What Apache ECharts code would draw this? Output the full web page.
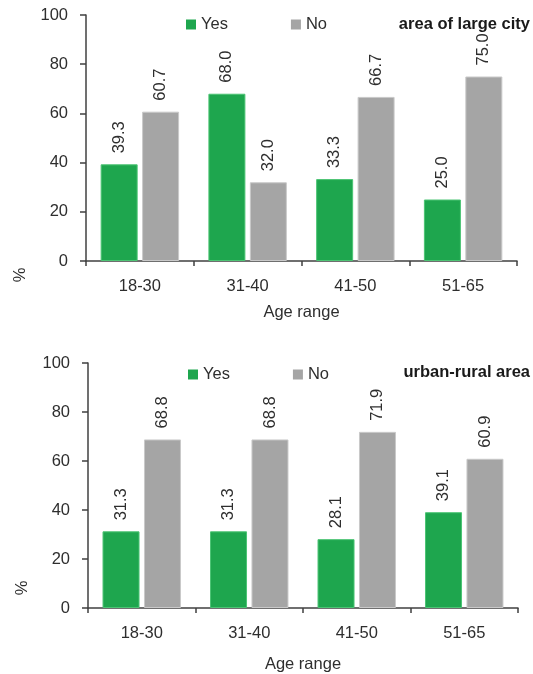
<!DOCTYPE html>
<html>
<head>
<meta charset="utf-8">
<script src="https://cdn.jsdelivr.net/npm/echarts@6/dist/echarts.min.js"></script>
<style>
  html, body { margin: 0; padding: 0; background: #fff; }
  #chart { width: 533px; height: 674px; }
</style>
</head>
<body>
<div id="chart"></div>
<script>
// Age groups on the x axis
const ageRanges = ['18-30', '31-40', '41-50', '51-65'];

// Share of respondents (%) — area of large city
const cityYes = [39.3, 68.0, 33.3, 25.0];
const cityNo = [60.7, 32.0, 66.7, 75.0];

// Share of respondents (%) — urban-rural area
const ruralYes = [31.3, 31.3, 28.1, 39.1];
const ruralNo = [68.8, 68.8, 71.9, 60.9];

const panelTitles = ['area of large city', 'urban-rural area'];
const xAxisTitle = 'Age range';
const yAxisTitle = '%';

const FONT = "'Liberation Sans', Arial, sans-serif";
const FS = 16.5;
const TEXT = '#2e2e2e';
const AXIS = '#404040';
const GREEN = '#1ea64e';
const GREEN_EDGE = '#4cc474';
const GREY = '#a5a5a5';
const GREY_EDGE = '#c9c9c9';

const grids = [
  { left: 86, right: 16, top: 15, height: 246 },
  { left: 88, right: 15, top: 363, height: 245 }
];

function xAxisFor(i) {
  return {
    type: 'category',
    gridIndex: i,
    data: ageRanges,
    name: xAxisTitle,
    nameLocation: 'middle',
    nameGap: i === 0 ? 43 : 48,
    nameTextStyle: { fontFamily: FONT, fontSize: FS, color: TEXT },
    axisLine: { lineStyle: { color: AXIS, width: 1.5 } },
    axisTick: { show: true, length: 5, lineStyle: { color: AXIS, width: 1.5 } },
    axisLabel: { margin: 17, fontFamily: FONT, fontSize: FS, color: TEXT }
  };
}

function yAxisFor(i) {
  return {
    type: 'value',
    gridIndex: i,
    min: 0,
    max: 100,
    interval: 20,
    splitLine: { show: false },
    axisLine: { show: true, lineStyle: { color: AXIS, width: 1.5 } },
    axisTick: { show: true, length: 6, lineStyle: { color: AXIS, width: 1.5 } },
    axisLabel: { margin: 18, fontFamily: FONT, fontSize: FS, color: TEXT }
  };
}

function barSeries(name, values, color, edge, i) {
  return {
    type: 'bar',
    name: name,
    xAxisIndex: i,
    yAxisIndex: i,
    data: values,
    barWidth: 37,
    barGap: '12%',
    itemStyle: { color: color, borderColor: edge, borderWidth: 1 },
    label: {
      show: true,
      position: 'top',
      rotate: 90,
      align: 'left',
      verticalAlign: 'middle',
      distance: 11,
      fontFamily: FONT,
      fontSize: FS,
      color: TEXT,
      formatter: p => p.value.toFixed(1)
    }
  };
}

function legendAt(left, top) {
  return {
    left: left, top: top, itemWidth: 10, itemHeight: 10, itemGap: 63, padding: 0,
    icon: 'rect', data: ['Yes', 'No'],
    itemStyle: { borderWidth: 0 },
    textStyle: { fontFamily: FONT, fontSize: FS, color: TEXT }
  };
}

const option = {
  animation: false,
  backgroundColor: '#ffffff',
  title: [
    { text: panelTitles[0], right: 3, top: 16, padding: 0,
      textStyle: { fontFamily: FONT, fontSize: 16.5, fontWeight: 'bold', color: '#1a1a1a' } },
    { text: panelTitles[1], right: 3, top: 364, padding: 0,
      textStyle: { fontFamily: FONT, fontSize: 16.5, fontWeight: 'bold', color: '#1a1a1a' } }
  ],
  legend: [legendAt(186, 16), legendAt(188, 366)],
  grid: grids,
  xAxis: [xAxisFor(0), xAxisFor(1)],
  yAxis: [yAxisFor(0), yAxisFor(1)],
  series: [
    barSeries('Yes', cityYes, GREEN, GREEN_EDGE, 0),
    barSeries('No', cityNo, GREY, GREY_EDGE, 0),
    barSeries('Yes', ruralYes, GREEN, GREEN_EDGE, 1),
    barSeries('No', ruralNo, GREY, GREY_EDGE, 1)
  ],
  graphic: [
    { type: 'text', x: 20, y: 275, rotation: Math.PI / 2,
      style: { text: yAxisTitle, fontFamily: FONT, fontSize: FS, fill: TEXT,
               textAlign: 'center', textVerticalAlign: 'middle' } },
    { type: 'text', x: 22, y: 588, rotation: Math.PI / 2,
      style: { text: yAxisTitle, fontFamily: FONT, fontSize: FS, fill: TEXT,
               textAlign: 'center', textVerticalAlign: 'middle' } }
  ]
};

const chart = echarts.init(document.getElementById('chart'), null, { renderer: 'canvas' });
chart.setOption(option);
</script>
</body>
</html>
